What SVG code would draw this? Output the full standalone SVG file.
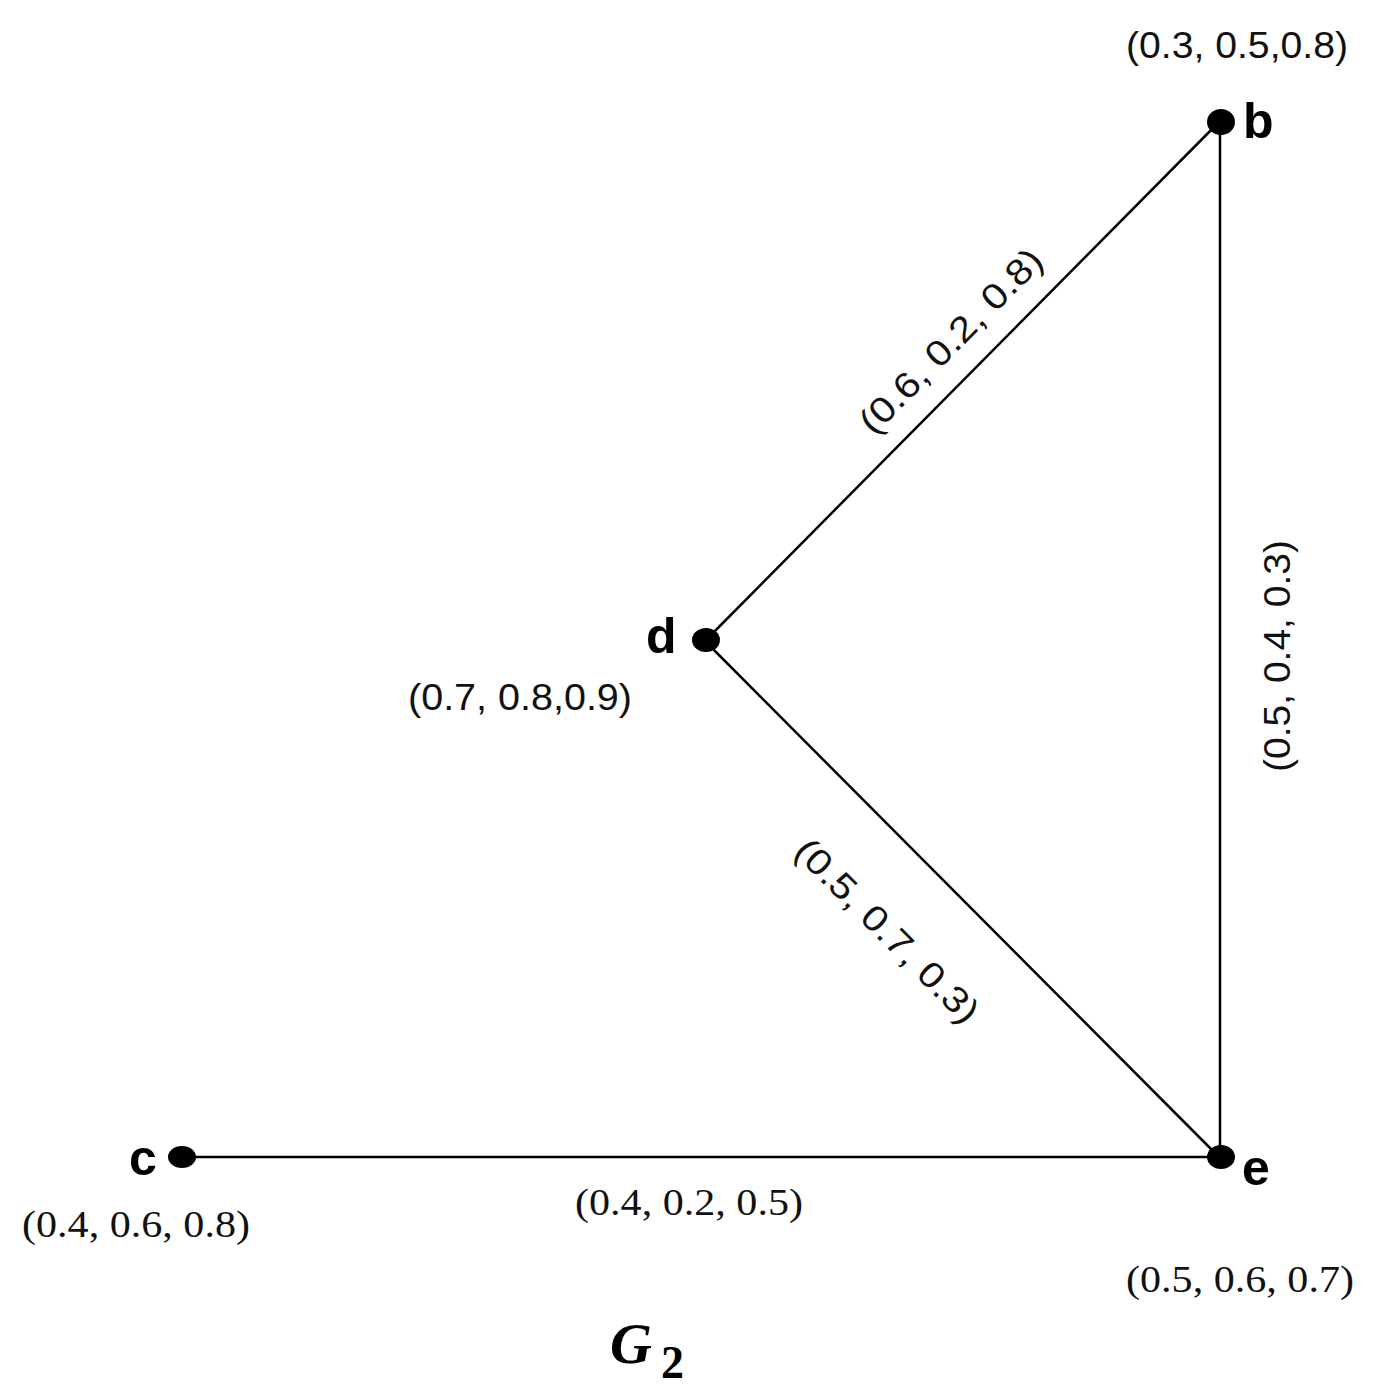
<svg xmlns="http://www.w3.org/2000/svg" width="1374" height="1397" viewBox="0 0 1374 1397">
<style>
.edge{stroke:#000;stroke-width:2.5;fill:none}
.dot{fill:#000}
.nl{font-family:"Liberation Sans",Arial,sans-serif;font-weight:bold;font-size:50px;fill:#000}
.ls{font-family:"Liberation Sans",Arial,sans-serif;font-size:36px;fill:#111}
.lr{font-family:"Liberation Serif","Times New Roman",serif;font-size:38px;fill:#111}
.g{font-family:"Liberation Serif","Times New Roman",serif;font-weight:bold;fill:#000}
</style>
<rect width="1374" height="1397" fill="#fff"/>
<g id="connectors">
<line class="edge" x1="705" y1="641" x2="1220" y2="121"/>
<line class="edge" x1="705" y1="641" x2="1220" y2="1158"/>
<line class="edge" x1="1220" y1="121" x2="1220" y2="1158"/>
<line class="edge" x1="182" y1="1157" x2="1220" y2="1157"/>
<text class="ls" text-anchor="middle" textLength="244" lengthAdjust="spacingAndGlyphs" transform="translate(951,341) rotate(-45.3)" y="12">(0.6, 0.2, 0.8)</text>
<text class="ls" text-anchor="middle" textLength="244" lengthAdjust="spacingAndGlyphs" transform="translate(887,931) rotate(45.1)" y="12">(0.5, 0.7, 0.3)</text>
<text class="ls" text-anchor="middle" textLength="232" lengthAdjust="spacingAndGlyphs" transform="translate(1278,656) rotate(-90)" y="12">(0.5, 0.4, 0.3)</text>
<text class="lr" x="689" y="1215" text-anchor="middle" textLength="228" lengthAdjust="spacingAndGlyphs">(0.4, 0.2, 0.5)</text>
</g>
<g id="node-b">
<ellipse class="dot" cx="1221" cy="122" rx="14" ry="13"/>
<text class="nl" x="1243" y="138">b</text>
<text class="ls" x="1126" y="58" textLength="222" lengthAdjust="spacingAndGlyphs">(0.3, 0.5,0.8)</text>
</g>
<g id="node-d">
<ellipse class="dot" cx="706" cy="640" rx="14" ry="12"/>
<text class="nl" x="646" y="653">d</text>
<text class="ls" x="408" y="710" textLength="224" lengthAdjust="spacingAndGlyphs">(0.7, 0.8,0.9)</text>
</g>
<g id="node-c">
<ellipse class="dot" cx="182" cy="1157" rx="14" ry="11"/>
<text class="nl" x="129" y="1175">c</text>
<text class="lr" x="22" y="1237" textLength="228" lengthAdjust="spacingAndGlyphs">(0.4, 0.6, 0.8)</text>
</g>
<g id="node-e">
<ellipse class="dot" cx="1221" cy="1157" rx="14" ry="12"/>
<text class="nl" x="1242" y="1185">e</text>
<text class="lr" x="1126" y="1292" textLength="228" lengthAdjust="spacingAndGlyphs">(0.5, 0.6, 0.7)</text>
</g>
<g id="title">
<text class="g" x="610" y="1363" font-size="58" font-style="italic">G</text>
<text class="g" x="661" y="1378" font-size="46">2</text>
</g>
</svg>
